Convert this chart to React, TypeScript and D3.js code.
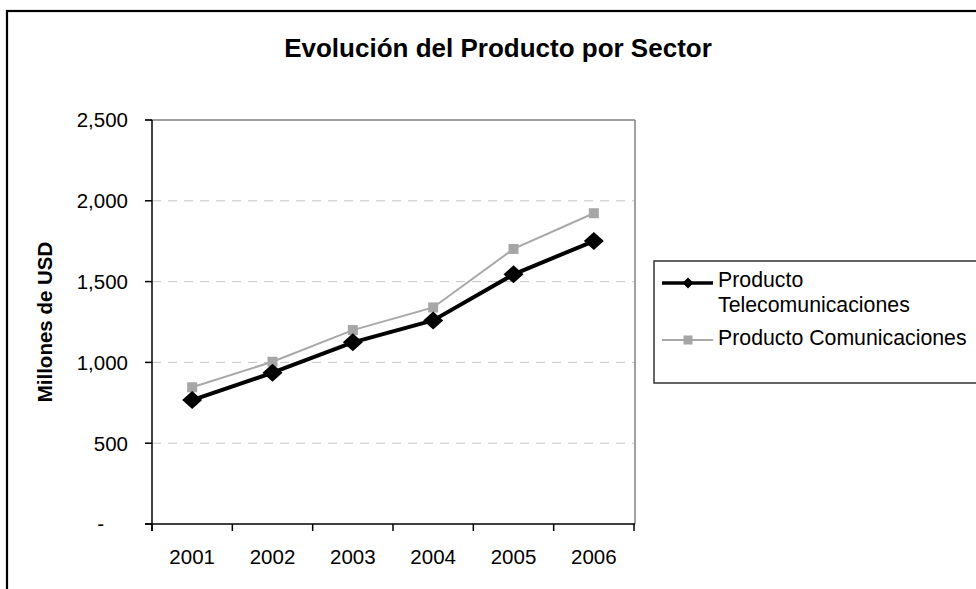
import React from "react";
import * as d3 from "d3";

const years: string[] = ["2001", "2002", "2003", "2004", "2005", "2006"];
const telecom: number[] = [767, 936, 1124, 1260, 1545, 1751];
const comunicaciones: number[] = [846, 1004, 1200, 1340, 1702, 1923];
const yTicks: number[] = [0, 500, 1000, 1500, 2000, 2500];
const seriesNames: string[] = ["Producto Telecomunicaciones", "Producto Comunicaciones"];
const title = "Evolución del Producto por Sector";
const yLabel = "Millones de USD";

const W = 976;
const H = 589;
const FONT = "'Liberation Sans', Arial, Helvetica, sans-serif";

export default function App() {
  const left = 152, right = 634, top = 120, bottom = 524;
  const x = d3.scaleBand<string>().domain(years).range([left, right]).padding(0);
  const y = d3.scaleLinear().domain([0, 2500]).range([bottom, top]);
  const cx = (d: string) => (x(d) as number) + x.bandwidth() / 2;

  const line = d3
    .line<number>()
    .x((_, i) => cx(years[i]))
    .y((v) => y(v));

  const fmt = d3.format(",");
  const boundaries = [...years.map((d) => x(d) as number), right];

  const diamond = (px: number, py: number, rx: number, ry: number) =>
    `M${px},${py - ry}L${px + rx},${py}L${px},${py + ry}L${px - rx},${py}Z`;

  return (
    <svg
      width={W}
      height={H}
      style={{ position: "absolute", left: 0, top: 0, background: "#fff" }}
      fontFamily={FONT}
    >
      <rect x={0} y={0} width={W} height={H} fill="#fff" />
      {/* outer chart border */}
      <rect x={7} y={11} width={1000} height={700} fill="none" stroke="#000" strokeWidth={2.2} />

      {/* title */}
      <text x={498} y={57} textAnchor="middle" fontSize={26} fontWeight="bold" fill="#000">
        {title}
      </text>

      {/* gridlines */}
      {yTicks
        .filter((t) => t > 0 && t < 2500)
        .map((t) => (
          <line
            key={"g" + t}
            x1={left}
            x2={right}
            y1={y(t)}
            y2={y(t)}
            stroke="#c4c4c4"
            strokeWidth={1}
            strokeDasharray="9,7"
          />
        ))}

      {/* plot frame top & right */}
      <line x1={left - 7} x2={right + 1} y1={y(2500)} y2={y(2500)} stroke="#808080" strokeWidth={1.5} />
      <line x1={right + 1} x2={right + 1} y1={top} y2={bottom} stroke="#808080" strokeWidth={1.5} />

      {/* y axis */}
      <line x1={left} x2={left} y1={top} y2={bottom + 7} stroke="#000" strokeWidth={1.5} />
      {yTicks.map((t) => (
        <g key={"yt" + t}>
          <line x1={left - 7} x2={left} y1={y(t)} y2={y(t)} stroke="#000" strokeWidth={1.5} />
          <text
            x={t === 0 ? 104 : 128}
            y={y(t)}
            dy="0.36em"
            textAnchor="end"
            fontSize={20.5}
            fill="#000"
          >
            {t === 0 ? "-" : fmt(t)}
          </text>
        </g>
      ))}

      {/* x axis */}
      <line x1={left - 7} x2={right + 1} y1={bottom} y2={bottom} stroke="#000" strokeWidth={1.5} />
      {boundaries.map((b, i) => (
        <line key={"xt" + i} x1={b} x2={b} y1={bottom} y2={bottom + 7} stroke="#000" strokeWidth={1.5} />
      ))}
      {years.map((d) => (
        <text key={"xl" + d} x={cx(d)} y={564} textAnchor="middle" fontSize={20.5} fill="#000">
          {d}
        </text>
      ))}

      {/* y label */}
      <text
        transform={`translate(52,${(top + bottom) / 2}) rotate(-90)`}
        textAnchor="middle"
        fontSize={20.5}
        fontWeight="bold"
        fill="#000"
      >
        {yLabel}
      </text>

      {/* series: comunicaciones (gray) */}
      <path d={line(comunicaciones) || ""} fill="none" stroke="#a8a8a8" strokeWidth={2} />
      {comunicaciones.map((v, i) => (
        <rect key={"s" + i} x={cx(years[i]) - 5} y={y(v) - 5} width={10} height={10} fill="#a6a6a6" />
      ))}

      {/* series: telecom (black) */}
      <path d={line(telecom) || ""} fill="none" stroke="#000" strokeWidth={4} strokeLinejoin="round" />
      {telecom.map((v, i) => (
        <path key={"d" + i} d={diamond(cx(years[i]), y(v), 10, 9)} fill="#000" />
      ))}

      {/* legend */}
      <rect x={654} y={261} width={340} height={122} fill="#fff" stroke="#333" strokeWidth={1.5} />
      <line x1={662} x2={713} y1={283} y2={283} stroke="#000" strokeWidth={3.5} />
      <path d={diamond(688, 283, 5.5, 5.5)} fill="#000" />
      <text x={718} y={287} fontSize={21.3} fill="#000">
        {seriesNames[0].split(" ")[0]}
      </text>
      <text x={718} y={312} fontSize={21.3} fill="#000">
        {seriesNames[0].split(" ")[1]}
      </text>
      <line x1={662} x2={713} y1={340} y2={340} stroke="#a8a8a8" strokeWidth={2} />
      <rect x={683.5} y={335.5} width={9} height={9} fill="#a6a6a6" />
      <text x={718} y={345} fontSize={21.3} fill="#000">
        {seriesNames[1]}
      </text>
    </svg>
  );
}
